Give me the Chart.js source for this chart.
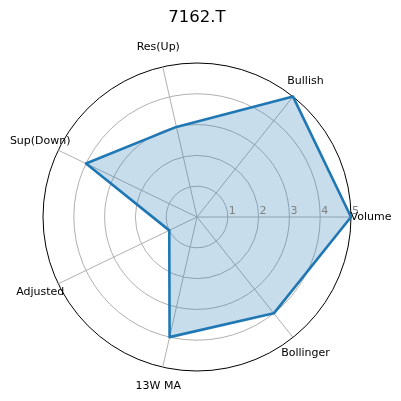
<!DOCTYPE html>
<html>
<head>
<meta charset="utf-8">
<script src="https://cdn.jsdelivr.net/npm/chart.js@4"></script>
<style>
  html, body { margin: 0; padding: 0; background: #fff; }
  #wrap { width: 401px; height: 401px; }
</style>
</head>
<body>
<div id="wrap"><canvas id="radar" width="401" height="401"></canvas></div>
<script>
// Data (counter-clockwise from the right, as in the picture)
const categories = ['Volume', 'Bullish', 'Res(Up)', 'Sup(Down)', 'Adjusted', '13W MA', 'Bollinger'];
const scores = [5, 5, 3, 4, 1, 4, 4];
const tickValues = [1, 2, 3, 4, 5];
const chartTitle = '7162.T';

const FONT = "'DejaVu Sans', sans-serif";

// Chart.js goes clockwise, so keep the first item and reverse the rest
function ccw(arr) {
    return [arr[0]].concat(arr.slice(1).reverse());
}

// Draws category labels and radial tick labels outside of the library's fitting
const labelPlugin = {
    id: 'radarLabels',
    afterDatasetsDraw(chart) {
        const scale = chart.scales.r;
        const ctx = chart.ctx;
        ctx.save();

        // radial tick labels along the 0 degree axis
        ctx.font = '11px ' + FONT;
        ctx.fillStyle = '#808080';
        ctx.textAlign = 'left';
        ctx.textBaseline = 'bottom';
        tickValues.forEach(v => {
            const d = scale.getDistanceFromCenterForValue(v);
            ctx.fillText(String(v), scale.xCenter + d + 1, scale.yCenter - 0.5);
        });

        // category labels
        ctx.fillStyle = '#000';
        ctx.textAlign = 'center';
        ctx.textBaseline = 'middle';
        chart.data.labels.forEach((label, i) => {
            const p = scale.getPointPosition(i, scale.drawingArea + 20);
            ctx.fillText(label, p.x, p.y);
        });
        ctx.restore();
    }
};

new Chart(document.getElementById('radar'), {
    type: 'radar',
    data: {
        labels: ccw(categories),
        datasets: [{
            data: ccw(scores),
            borderColor: '#1f77b4',
            backgroundColor: 'rgba(31, 119, 180, 0.25)',
            borderWidth: 2.6,
            borderJoinStyle: 'round',
            pointRadius: 0,
            pointHoverRadius: 0,
            fill: true
        }]
    },
    options: {
        responsive: false,
        animation: false,
        layout: { padding: { top: 0, left: 43, right: 50, bottom: 30 } },
        plugins: {
            legend: { display: false },
            tooltip: { enabled: false },
            title: {
                display: true,
                text: chartTitle,
                color: '#000',
                font: { family: FONT, size: 16.5, weight: 'normal' },
                padding: { top: 8, bottom: 35.2 }
            }
        },
        scales: {
            r: {
                min: 0,
                max: 5,
                startAngle: 90,
                ticks: { display: false, stepSize: 1 },
                pointLabels: { display: false },
                grid: {
                    circular: true,
                    color: c => (c.tick && c.tick.value === 5) ? '#000' : '#b0b0b0',
                    lineWidth: 1
                },
                angleLines: { color: '#b0b0b0', lineWidth: 1 }
            }
        }
    },
    plugins: [labelPlugin]
});
</script>
</body>
</html>
